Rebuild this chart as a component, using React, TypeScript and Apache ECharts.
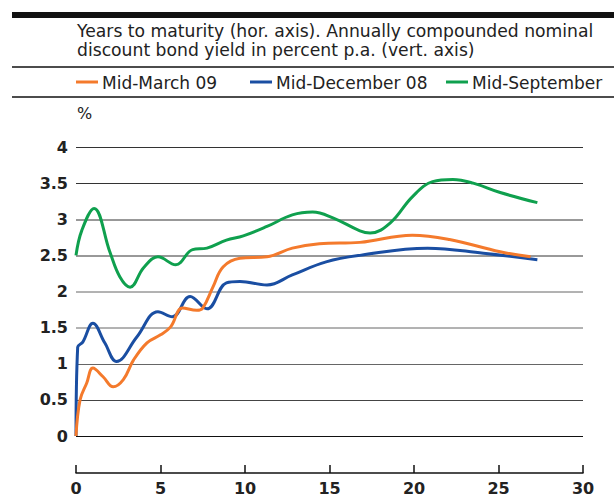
import React, { useEffect, useRef } from "react";
import * as echarts from "echarts";

const titleLines = [
  "Years to maturity (hor. axis). Annually compounded nominal",
  "discount bond yield in percent p.a. (vert. axis)",
];
const seriesNames = ["Mid-March 09", "Mid-December 08", "Mid-September"];
const seriesColors = ["#f47a2c", "#1a4ea2", "#0fa04e"];

const marchX = [0, 0.24, 0.63, 1.0, 1.6, 2.2, 2.8, 3.4, 4.2, 5.0, 5.6, 6.3, 7.15, 7.5, 8.1, 8.7, 9.7, 11.3, 12.8, 14.4, 16.8, 19.9, 22.1, 25.1, 26.9];
const marchY = [0, 0.5, 0.73, 0.94, 0.82, 0.68, 0.78, 1.05, 1.29, 1.4, 1.51, 1.77, 1.74, 1.77, 2.06, 2.34, 2.46, 2.48, 2.6, 2.66, 2.68, 2.78, 2.72, 2.55, 2.48];

const decX = [0, 0.1, 0.4, 1.0, 1.7, 2.4, 3.6, 4.85, 5.7, 6.75, 7.75, 8.9, 9.7, 11.3, 12.8, 14.8, 16.8, 20.8, 24.1, 27.3];
const decY = [0, 1.23, 1.3, 1.56, 1.29, 1.03, 1.37, 1.72, 1.65, 1.93, 1.76, 2.12, 2.14, 2.09, 2.23, 2.41, 2.5, 2.6, 2.53, 2.44];

const sepX = [0, 0.35, 1.07, 2.0, 2.6, 3.2, 4.0, 4.85, 5.9, 6.9, 7.75, 8.9, 9.9, 11.3, 12.8, 14.0, 15.2, 16.8, 17.4, 18.6, 19.9, 21.1, 22.3, 23.5, 25.1, 27.3];
const sepY = [2.5, 2.85, 3.15, 2.55, 2.2, 2.06, 2.33, 2.48, 2.37, 2.58, 2.6, 2.71, 2.77, 2.9, 3.06, 3.1, 3.02, 2.84, 2.81, 2.95, 3.31, 3.52, 3.55, 3.5, 3.37, 3.23];

const xTicks = { min: 0, max: 30, interval: 5 };
const yTicks = { min: 0, max: 4, interval: 0.5 };

const FONT = "'DejaVu Sans', sans-serif";

function zip(xs: number[], ys: number[]) {
  return xs.map((x, i) => [x, ys[i]]);
}

export default function App() {
  const ref = useRef<HTMLDivElement>(null);
  useEffect(() => {
    if (!ref.current) return;
    const chart = echarts.init(ref.current, undefined, { renderer: "svg" });
    const data = [zip(marchX, marchY), zip(decX, decY), zip(sepX, sepY)];
    const legendX = [76, 250, 446];
    const graphic: any[] = [
      { type: "rect", shape: { x: 12, y: 12, width: 602, height: 6 }, style: { fill: "#111" } },
      { type: "text", x: 77, y: 31, style: { text: titleLines[0], font: `17.2px ${FONT}`, fill: "#222", textVerticalAlign: "middle" } },
      { type: "text", x: 77, y: 50, style: { text: titleLines[1], font: `17.2px ${FONT}`, fill: "#222", textVerticalAlign: "middle" } },
      { type: "line", shape: { x1: 12, y1: 67, x2: 614, y2: 67 }, style: { stroke: "#111", lineWidth: 1.5 } },
      { type: "line", shape: { x1: 12, y1: 97, x2: 614, y2: 97 }, style: { stroke: "#111", lineWidth: 1.5 } },
      { type: "text", x: 77, y: 113, style: { text: "%", font: `16px ${FONT}`, fill: "#222", textVerticalAlign: "middle" } },
    ];
    seriesNames.forEach((n, i) => {
      graphic.push({ type: "line", shape: { x1: legendX[i], y1: 82, x2: legendX[i] + 22, y2: 82 }, style: { stroke: seriesColors[i], lineWidth: 3 } });
      graphic.push({ type: "text", x: legendX[i] + 26, y: 83, style: { text: n, font: `17px ${FONT}`, fill: "#222", textVerticalAlign: "middle" } });
    });
    chart.setOption({
      animation: false,
      grid: { left: 76, right: 31, top: 147, bottom: 60 },
      graphic,
      xAxis: {
        type: "value",
        min: xTicks.min,
        max: xTicks.max,
        interval: xTicks.interval,
        offset: 37,
        axisLine: { show: true, onZero: false, lineStyle: { color: "#111", width: 1.5 } },
        axisTick: { show: true, inside: true, length: 8, lineStyle: { color: "#111", width: 1.5 } },
        axisLabel: { fontFamily: FONT, fontSize: 16, fontWeight: "bold", color: "#222", margin: 7 },
        splitLine: { show: false },
      },
      yAxis: {
        type: "value",
        min: yTicks.min,
        max: yTicks.max,
        interval: yTicks.interval,
        axisLine: { show: false },
        axisTick: { show: false },
        axisLabel: { fontFamily: FONT, fontSize: 16, fontWeight: "bold", color: "#222", margin: 8 },
        splitLine: {
          show: true,
          lineStyle: { color: ["#111", "#444", "#666", "#666", "#666", "#333", "#333", "#333", "#333"], width: [2.5, 1.5, 1.5, 1.5, 1.5, 1.5, 1.5, 1.5, 1.5] as any },
        },
      },
      series: seriesNames.map((n, i) => ({
        name: n,
        type: "line",
        data: data[i],
        smooth: 0.4,
        showSymbol: false,
        lineStyle: { color: seriesColors[i], width: 3 },
        z: 3 - i,
      })),
    });
    return () => chart.dispose();
  }, []);
  return <div ref={ref} style={{ width: 614, height: 496, position: "absolute", left: 0, top: 0 }} />;
}
